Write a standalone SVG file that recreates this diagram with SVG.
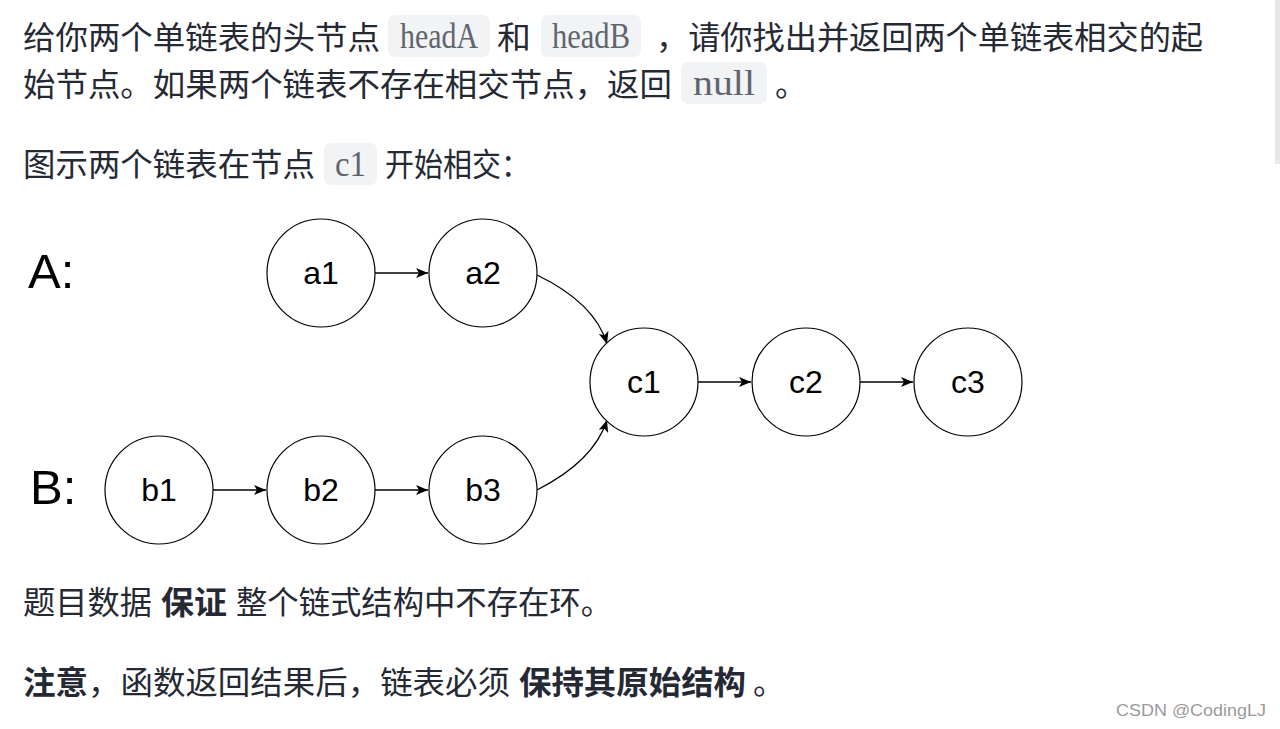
<svg xmlns="http://www.w3.org/2000/svg" width="1280" height="729" viewBox="0 0 1280 729">
<style>
.t{font-family:"Noto Sans CJK SC","Noto Sans",sans-serif;font-size:32px;fill:#252933}
.b{font-weight:bold}
.code{font-family:"Liberation Serif",serif;font-size:35px;fill:#60656d}
.cbox{fill:#f2f3f5}
.node{fill:#fff;stroke:#000;stroke-width:1.2}
.lbl{font-family:"Liberation Sans",Arial,sans-serif;font-size:32px;fill:#000;text-anchor:middle}
.big{font-family:"Liberation Sans",Arial,sans-serif;font-size:49px;fill:#000}
.edge{fill:none;stroke:#000;stroke-width:1.3;marker-end:url(#ah)}
</style>
<defs>
<marker id="ah" markerUnits="userSpaceOnUse" markerWidth="13" markerHeight="11" refX="12" refY="5" orient="auto" viewBox="0 0 13 11">
<path d="M0,0 L12,5 L0,10 L3,5 z" fill="#000"/>
</marker>
</defs>
<rect width="1280" height="729" fill="#fff"/>
<rect x="1275" y="0" width="5" height="164" fill="#e8e8e8"/>

<g id="text-top">
<text class="t" x="23" y="49" textLength="357" lengthAdjust="spacingAndGlyphs">给你两个单链表的头节点</text>
<rect class="cbox" x="388" y="15" width="102" height="42" rx="7"/>
<text class="code" x="400" y="48" textLength="78" lengthAdjust="spacingAndGlyphs">headA</text>
<text class="t" x="497" y="49" textLength="34" lengthAdjust="spacingAndGlyphs">和</text>
<rect class="cbox" x="541" y="15" width="100" height="42" rx="7"/>
<text class="code" x="552" y="48" textLength="78" lengthAdjust="spacingAndGlyphs">headB</text>
<text class="t" x="656" y="49" textLength="547" lengthAdjust="spacingAndGlyphs">，请你找出并返回两个单链表相交的起</text>
<text class="t" x="23" y="96" textLength="649" lengthAdjust="spacingAndGlyphs">始节点。如果两个链表不存在相交节点，返回</text>
<rect class="cbox" x="681" y="62" width="86" height="42" rx="7"/>
<text class="code" x="693" y="95" textLength="62" lengthAdjust="spacingAndGlyphs">null</text>
<text class="t" x="775" y="96" textLength="32" lengthAdjust="spacingAndGlyphs">。</text>
<text class="t" x="23" y="176" textLength="292" lengthAdjust="spacingAndGlyphs">图示两个链表在节点</text>
<rect class="cbox" x="324" y="143" width="53" height="42" rx="7"/>
<text class="code" x="335" y="176" textLength="31" lengthAdjust="spacingAndGlyphs">c1</text>
<text class="t" x="385" y="176" textLength="145" lengthAdjust="spacingAndGlyphs">开始相交：</text>
</g>

<text class="big" x="28" y="288">A:</text>
<text class="big" x="30" y="504">B:</text>

<g id="connectors">
<line class="edge" x1="375" y1="273" x2="428" y2="273"/>
<path class="edge" d="M537,275 Q595,303 607,344"/>
<line class="edge" x1="213" y1="490" x2="266" y2="490"/>
<line class="edge" x1="375" y1="490" x2="428" y2="490"/>
<path class="edge" d="M537,490 Q594,461 607,420"/>
<line class="edge" x1="698" y1="382" x2="751" y2="382"/>
<line class="edge" x1="860" y1="382" x2="913" y2="382"/>
</g>

<g id="a1"><circle class="node" cx="321" cy="273" r="54"/><text class="lbl" x="321" y="284">a1</text></g>
<g id="a2"><circle class="node" cx="483" cy="273" r="54"/><text class="lbl" x="483" y="284">a2</text></g>
<g id="c1"><circle class="node" cx="644" cy="382" r="54"/><text class="lbl" x="644" y="393">c1</text></g>
<g id="c2"><circle class="node" cx="806" cy="382" r="54"/><text class="lbl" x="806" y="393">c2</text></g>
<g id="c3"><circle class="node" cx="968" cy="382" r="54"/><text class="lbl" x="968" y="393">c3</text></g>
<g id="b1"><circle class="node" cx="159" cy="490" r="54"/><text class="lbl" x="159" y="501">b1</text></g>
<g id="b2"><circle class="node" cx="321" cy="490" r="54"/><text class="lbl" x="321" y="501">b2</text></g>
<g id="b3"><circle class="node" cx="483" cy="490" r="54"/><text class="lbl" x="483" y="501">b3</text></g>

<g id="text-bottom">
<text class="t" x="23" y="614" textLength="129" lengthAdjust="spacingAndGlyphs">题目数据</text>
<text class="t b" x="161" y="614" textLength="66" lengthAdjust="spacingAndGlyphs">保证</text>
<text class="t" x="236" y="614" textLength="376" lengthAdjust="spacingAndGlyphs">整个链式结构中不存在环。</text>
<text class="t b" x="23" y="694" textLength="65" lengthAdjust="spacingAndGlyphs">注意</text>
<text class="t" x="88" y="694" textLength="422" lengthAdjust="spacingAndGlyphs">，函数返回结果后，链表必须</text>
<text class="t b" x="519" y="694" textLength="227" lengthAdjust="spacingAndGlyphs">保持其原始结构</text>
<text class="t" x="753" y="694" textLength="32" lengthAdjust="spacingAndGlyphs">。</text>
</g>

<text x="1116" y="716" font-family="Liberation Sans, Arial, sans-serif" font-size="17" fill="#9a9a9a" textLength="150" lengthAdjust="spacingAndGlyphs">CSDN @CodingLJ</text>
</svg>
